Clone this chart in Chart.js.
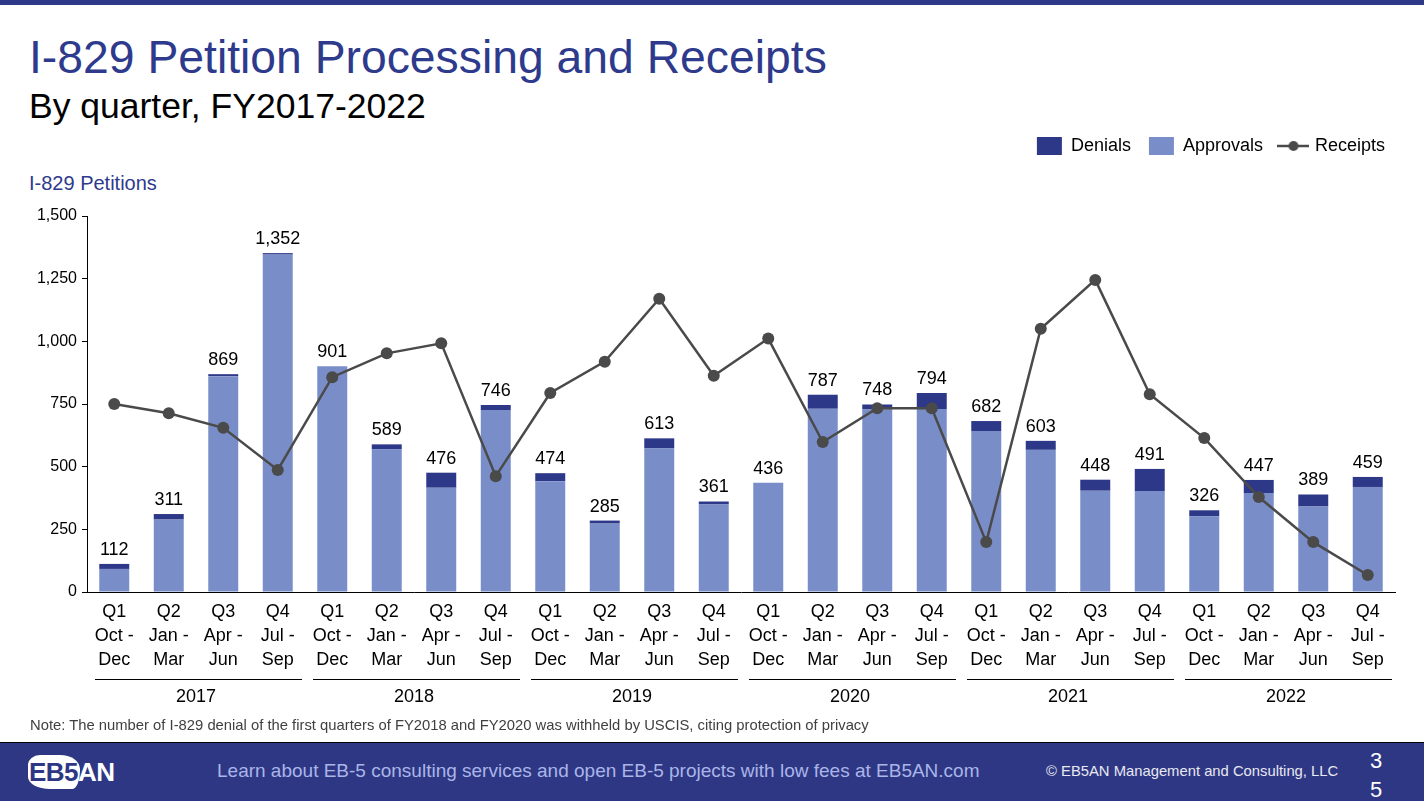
<!DOCTYPE html>
<html>
<head>
<meta charset="utf-8">
<title>I-829 Petition Processing and Receipts</title>
<script src="https://cdn.jsdelivr.net/npm/chart.js@4.4.1/dist/chart.umd.min.js"></script>
<style>
  html, body { margin: 0; padding: 0; background: #fff; }
  body { width: 1424px; height: 801px; position: relative; overflow: hidden;
         font-family: "Liberation Sans", Arial, sans-serif; }
  .topbar { position: absolute; left: 0; top: 0; width: 1424px; height: 5px; background: #2E3A87; }
  .title { position: absolute; left: 29px; top: 30px; font-size: 46.3px; color: #2E3A8C; white-space: nowrap; }
  .subtitle { position: absolute; left: 29px; top: 86px; font-size: 35.5px; color: #000; white-space: nowrap; }
  .axistitle { position: absolute; left: 29px; top: 172px; font-size: 20px; color: #2E3A8C; }
  .note { position: absolute; left: 30px; top: 717px; font-size: 14.8px; color: #404040; white-space: nowrap; }
  #wrap { position: absolute; left: 0; top: 110px; width: 1424px; height: 610px; }
  .footer { position: absolute; left: 0; top: 742px; width: 1424px; height: 59px;
            background: #2E3784; border-top: 1px solid #000; }
  .map { position: absolute; left: 28px; top: 12px; width: 52px; height: 34px; background: #fff;
         border-radius: 12px 20px 8px 22px / 10px 14px 18px 12px; }
  .logo { position: absolute; left: 29px; top: 14px; font-size: 26px; font-weight: bold; color: #fff;
          letter-spacing: -0.5px; white-space: nowrap; }
  .logo span { color: #2E3784; }
  .learn { position: absolute; left: 217px; top: 17px; font-size: 19px; color: #AAB5E8; white-space: nowrap; }
  .copy { position: absolute; left: 1046px; top: 20px; font-size: 14.8px; color: #E8E8F0; white-space: nowrap; }
  .page { position: absolute; left: 1370px; top: 3px; font-size: 22px; color: #fff; line-height: 29px; }
</style>
</head>
<body>
<div class="topbar"></div>
<div class="title">I-829 Petition Processing and Receipts</div>
<div class="subtitle">By quarter, FY2017-2022</div>
<div class="axistitle">I-829 Petitions</div>
<div id="wrap"><canvas id="chart" width="1424" height="610"></canvas></div>
<div class="note">Note: The number of I-829 denial of the first quarters of FY2018 and FY2020 was withheld by USCIS, citing protection of privacy</div>
<div class="footer">
  <div class="map"></div>
  <div class="logo"><span>EB5</span>AN</div>
  <div class="learn">Learn about EB-5 consulting services and open EB-5 projects with low fees at EB5AN.com</div>
  <div class="copy">© EB5AN Management and Consulting, LLC</div>
  <div class="page">3<br>5</div>
</div>
<script>
// data
const quarterLabels = [['Q1', 'Oct -', 'Dec'], ['Q2', 'Jan -', 'Mar'], ['Q3', 'Apr -', 'Jun'], ['Q4', 'Jul -', 'Sep']];
const years = ['2017', '2018', '2019', '2020', '2021', '2022'];
const approvals = [92, 289, 861, 1346, 901, 569, 416, 726, 442, 273, 573, 349,
                   436, 731, 728, 730, 642, 567, 404, 403, 302, 395, 341, 419];
const denials = [20, 22, 8, 6, 0, 20, 60, 20, 32, 12, 40, 12,
                 0, 56, 20, 64, 40, 36, 44, 88, 24, 52, 48, 40];
const receipts = [750, 713, 655, 487, 857, 952, 992, 462, 794, 919, 1170, 863,
                  1011, 598, 733, 733, 199, 1050, 1245, 789, 614, 379, 199, 68];
const yTicks = [0, 250, 500, 750, 1000, 1250, 1500];

const FONT = '"Liberation Sans", Arial, sans-serif';
const DEN_COLOR = '#2E3888';
const APP_COLOR = '#798DC8';
const LINE_COLOR = '#4A4A4A';

const categories = [];
years.forEach(() => quarterLabels.forEach(q => categories.push(q)));

// little line+dot icon for the Receipts legend entry
const lineIcon = document.createElement('canvas');
lineIcon.width = 32; lineIcon.height = 12;
(function () {
  const c = lineIcon.getContext('2d');
  c.strokeStyle = LINE_COLOR; c.lineWidth = 2.5;
  c.beginPath(); c.moveTo(0, 6); c.lineTo(32, 6); c.stroke();
  c.fillStyle = LINE_COLOR;
  c.beginPath(); c.arc(16, 6, 5, 0, Math.PI * 2); c.fill();
})();

// total above each bar
const totalLabels = {
  id: 'totalLabels',
  afterDatasetsDraw(chart) {
    const ctx = chart.ctx;
    const x = chart.scales.x, y = chart.scales.y;
    ctx.save();
    ctx.font = '18px ' + FONT;
    ctx.fillStyle = '#000';
    ctx.textAlign = 'center';
    ctx.textBaseline = 'middle';
    approvals.forEach((a, i) => {
      const total = a + denials[i];
      ctx.fillText(total.toLocaleString('en-US'), x.getPixelForValue(i), y.getPixelForValue(total) - 14);
    });
    ctx.restore();
  }
};

// fiscal year groups under the quarter labels
const yearGroups = {
  id: 'yearGroups',
  afterDraw(chart) {
    const ctx = chart.ctx;
    const x = chart.scales.x;
    const half = (x.getPixelForValue(1) - x.getPixelForValue(0)) / 2;
    ctx.save();
    ctx.strokeStyle = '#000';
    ctx.lineWidth = 1;
    ctx.fillStyle = '#000';
    ctx.font = '18px ' + FONT;
    ctx.textAlign = 'center';
    ctx.textBaseline = 'middle';
    years.forEach((yr, g) => {
      const l = x.getPixelForValue(g * 4) - half;
      const r = x.getPixelForValue(g * 4 + 3) + half;
      ctx.beginPath();
      ctx.moveTo(l + 8, 569.5);
      ctx.lineTo(r - 3, 569.5);
      ctx.stroke();
      ctx.fillText(yr, (l + r) / 2, 587);
    });
    ctx.restore();
  }
};

// extra gap under the legend, and nudge it right/down a little
const legendGap = {
  id: 'legendGap',
  beforeInit(chart) {
    const fit = chart.legend.fit;
    chart.legend.fit = function () {
      fit.bind(chart.legend)();
      this.height += 54;
    };
  },
  afterLayout(chart) {
    chart.legend.left += 8;
    chart.legend.right += 8;
    chart.legend.top += 3;
    chart.legend.bottom += 3;
  }
};

new Chart(document.getElementById('chart'), {
  type: 'bar',
  data: {
    labels: categories,
    datasets: [
      {
        type: 'line',
        label: 'Receipts',
        data: receipts,
        stack: 'r',
        borderColor: LINE_COLOR,
        backgroundColor: LINE_COLOR,
        borderWidth: 2.5,
        pointRadius: 6,
        pointBorderWidth: 0,
        pointBackgroundColor: LINE_COLOR,
        tension: 0
      },
      {
        label: 'Approvals',
        data: approvals,
        stack: 'b',
        backgroundColor: APP_COLOR,
        barPercentage: 0.55,
        categoryPercentage: 1.0
      },
      {
        label: 'Denials',
        data: denials,
        stack: 'b',
        backgroundColor: DEN_COLOR,
        barPercentage: 0.55,
        categoryPercentage: 1.0
      }
    ]
  },
  options: {
    responsive: false,
    animation: false,
    layout: { padding: { top: 6, right: 29, bottom: 0, left: 0 } },
    plugins: {
      tooltip: { enabled: false },
      legend: {
        position: 'top',
        align: 'end',
        labels: {
          usePointStyle: true,
          pointStyleWidth: 25,
          boxHeight: 18,
          padding: 18,
          color: '#000',
          font: { family: FONT, size: 18 },
          generateLabels: () => [
            { text: 'Denials', fillStyle: DEN_COLOR, strokeStyle: DEN_COLOR, lineWidth: 0, pointStyle: 'rect', datasetIndex: 2 },
            { text: 'Approvals', fillStyle: APP_COLOR, strokeStyle: APP_COLOR, lineWidth: 0, pointStyle: 'rect', datasetIndex: 1 },
            { text: 'Receipts', fillStyle: LINE_COLOR, strokeStyle: LINE_COLOR, lineWidth: 0, pointStyle: lineIcon, datasetIndex: 0 }
          ]
        }
      }
    },
    scales: {
      x: {
        stacked: true,
        afterFit: s => { s.height = 128; },
        grid: { display: false, drawTicks: false },
        border: { display: true, color: '#000', width: 1 },
        ticks: {
          color: '#000',
          padding: 8,
          maxRotation: 0,
          autoSkip: false,
          font: { family: FONT, size: 18, lineHeight: 1.34 }
        }
      },
      y: {
        stacked: true,
        min: 0,
        max: 1500,
        afterFit: s => { s.width = 87; },
        afterBuildTicks: s => { s.ticks = yTicks.map(v => ({ value: v })); },
        grid: { display: true, drawOnChartArea: false, drawTicks: true, tickLength: 5, color: '#000' },
        border: { display: true, color: '#000', width: 1 },
        ticks: {
          color: '#000',
          padding: 5,
          font: { family: FONT, size: 16 },
          callback: v => v.toLocaleString('en-US')
        }
      }
    }
  },
  plugins: [totalLabels, yearGroups, legendGap]
});
</script>
</body>
</html>
